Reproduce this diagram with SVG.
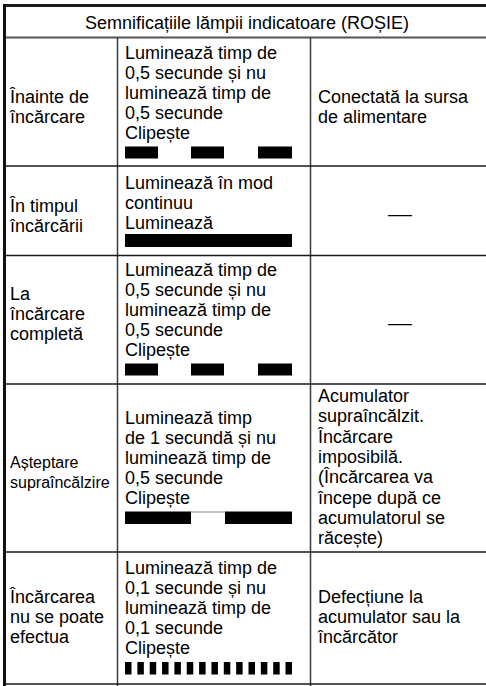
<svg xmlns="http://www.w3.org/2000/svg" width="486" height="686" viewBox="0 0 486 686">
<style>
text{font-family:"Liberation Sans",Arial,sans-serif;font-size:18px;fill:#000}
.sm{font-size:16px}
.c{text-anchor:middle}
.g{stroke:#3a3a3a;stroke-width:1.5;fill:none}
.r{stroke:#1a1a1a;stroke-width:1.6;fill:none}
.b{fill:#000}
</style>
<rect x="0" y="0" width="486" height="686" fill="#fff"/>
<g id="grid">
<line class="r" x1="3" y1="5.5" x2="486" y2="5.5" style="stroke-width:3"/>
<line x1="4.5" y1="4" x2="4.5" y2="686" stroke="#111" stroke-width="3"/>
<line class="g" x1="6" y1="37.5" x2="486" y2="37.5" style="stroke-width:2;stroke:#555"/>
<line class="g" x1="117.5" y1="37.5" x2="117.5" y2="686"/>
<line class="g" x1="310.5" y1="37.5" x2="310.5" y2="686"/>
<line class="r" x1="6" y1="166" x2="486" y2="166"/>
<line class="r" x1="6" y1="255.5" x2="486" y2="255.5"/>
<line class="r" x1="6" y1="384" x2="486" y2="384"/>
<line class="r" x1="6" y1="552" x2="486" y2="552"/>
<line class="r" x1="6" y1="684" x2="486" y2="684"/>
</g>
<g id="header">
<text class="c" x="247" y="29">Semnificațiile lămpii indicatoare (ROȘIE)</text>
</g>
<g id="row1">
<text x="10" y="103">Înainte de</text>
<text x="10" y="123">încărcare</text>
<text x="125" y="58.5">Luminează timp de</text>
<text x="125" y="78.5">0,5 secunde și nu</text>
<text x="125" y="98.5">luminează timp de</text>
<text x="125" y="118.5">0,5 secunde</text>
<text x="125" y="138.5">Clipește</text>
<rect class="b" x="125" y="146.5" width="33" height="12"/>
<rect class="b" x="191" y="146.5" width="33" height="12"/>
<rect class="b" x="258" y="146.5" width="34" height="12"/>
<text x="318" y="103">Conectată la sursa</text>
<text x="318" y="123">de alimentare</text>
</g>
<g id="row2">
<text x="10" y="212">În timpul</text>
<text x="10" y="232">încărcării</text>
<text x="125" y="188.5">Luminează în mod</text>
<text x="125" y="208.5">continuu</text>
<text x="125" y="228.5">Luminează</text>
<rect class="b" x="125" y="234" width="167" height="13"/>
<text class="c" x="400" y="220" textLength="24" lengthAdjust="spacingAndGlyphs">—</text>
</g>
<g id="row3">
<text x="10" y="299.5">La</text>
<text x="10" y="319.5">încărcare</text>
<text x="10" y="339.5">completă</text>
<text x="125" y="276">Luminează timp de</text>
<text x="125" y="296">0,5 secunde și nu</text>
<text x="125" y="316">luminează timp de</text>
<text x="125" y="336">0,5 secunde</text>
<text x="125" y="356">Clipește</text>
<rect class="b" x="125" y="363.5" width="33" height="12"/>
<rect class="b" x="191" y="363.5" width="33" height="12"/>
<rect class="b" x="258" y="363.5" width="34" height="12"/>
<text class="c" x="400" y="329" textLength="24" lengthAdjust="spacingAndGlyphs">—</text>
</g>
<g id="row4">
<text class="sm" x="10" y="468">Așteptare</text>
<text class="sm" x="10" y="488">supraîncălzire</text>
<text x="125" y="424">Luminează timp</text>
<text x="125" y="444">de 1 secundă și nu</text>
<text x="125" y="464">luminează timp de</text>
<text x="125" y="484">0,5 secunde</text>
<text x="125" y="504">Clipește</text>
<rect class="b" x="125" y="511.5" width="66" height="12.5"/>
<line x1="191" y1="512" x2="225" y2="512" stroke="#888" stroke-width="1"/>
<rect class="b" x="225" y="511.5" width="67" height="12.5"/>
<text x="318" y="402">Acumulator</text>
<text x="318" y="422.3">supraîncălzit.</text>
<text x="318" y="442.6">Încărcare</text>
<text x="318" y="462.9">imposibilă.</text>
<text x="318" y="483.2">(Încărcarea va</text>
<text x="318" y="503.5">începe după ce</text>
<text x="318" y="523.8">acumulatorul se</text>
<text x="318" y="544.1">răcește)</text>
</g>
<g id="row5">
<text x="10" y="603">Încărcarea</text>
<text x="10" y="623">nu se poate</text>
<text x="10" y="643">efectua</text>
<text x="125" y="574">Luminează timp de</text>
<text x="125" y="594">0,1 secunde și nu</text>
<text x="125" y="614">luminează timp de</text>
<text x="125" y="634">0,1 secunde</text>
<text x="125" y="654">Clipește</text>
<g class="b">
<rect x="125" y="662" width="6.5" height="12.5"/>
<rect x="137.35" y="662" width="6.5" height="12.5"/>
<rect x="149.7" y="662" width="6.5" height="12.5"/>
<rect x="162.05" y="662" width="6.5" height="12.5"/>
<rect x="174.4" y="662" width="6.5" height="12.5"/>
<rect x="186.75" y="662" width="6.5" height="12.5"/>
<rect x="199.1" y="662" width="6.5" height="12.5"/>
<rect x="211.45" y="662" width="6.5" height="12.5"/>
<rect x="223.8" y="662" width="6.5" height="12.5"/>
<rect x="236.15" y="662" width="6.5" height="12.5"/>
<rect x="248.5" y="662" width="6.5" height="12.5"/>
<rect x="260.85" y="662" width="6.5" height="12.5"/>
<rect x="273.2" y="662" width="6.5" height="12.5"/>
<rect x="285.5" y="662" width="6.5" height="12.5"/>
</g>
<text x="318" y="603">Defecțiune la</text>
<text x="318" y="623">acumulator sau la</text>
<text x="318" y="643">încărcător</text>
</g>
</svg>
